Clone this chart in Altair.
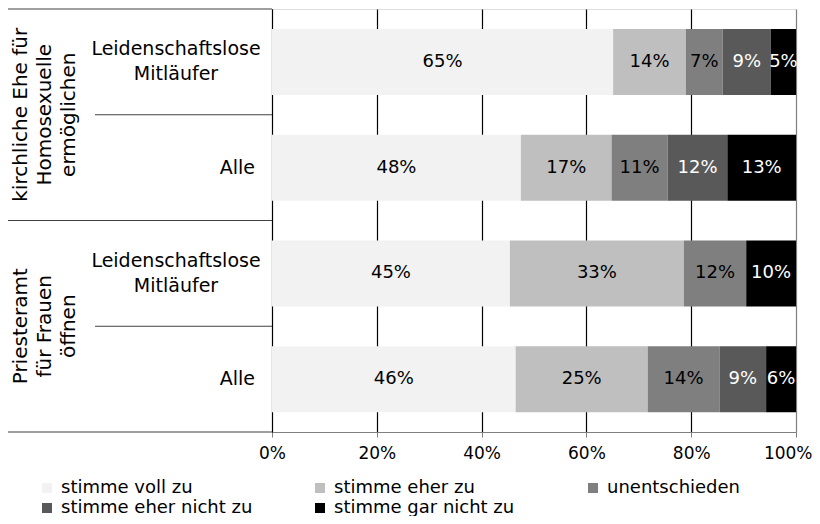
import altair as alt
import pandas as pd

FONT = "DejaVu Sans"

categories = ["stimme voll zu", "stimme eher zu", "unentschieden",
              "stimme eher nicht zu", "stimme gar nicht zu"]
colors = ["#f2f2f2", "#bfbfbf", "#7f7f7f", "#595959", "#000000"]
white_text = ["stimme eher nicht zu", "stimme gar nicht zu"]

row_labels = ["Leidenschaftslose\nMitläufer", "Alle",
              "Leidenschaftslose\nMitläufer", "Alle"]
group_labels = ["kirchliche Ehe für\nHomosexuelle\nermöglichen",
                "Priesteramt\nfür Frauen\nöffnen"]

# values (segment widths, %), and the printed labels
ehe_mitlaeufer = [65.1, 13.9, 7.0, 9.2, 4.8]
ehe_alle = [47.5, 17.3, 10.7, 11.4, 13.1]
priester_mitlaeufer = [45.4, 33.2, 11.9, 0.0, 9.5]
priester_alle = [46.5, 25.2, 13.7, 8.9, 5.7]

lab_ehe_mitlaeufer = ["65%", "14%", "7%", "9%", "5%"]
lab_ehe_alle = ["48%", "17%", "11%", "12%", "13%"]
lab_priester_mitlaeufer = ["45%", "33%", "12%", "", "10%"]
lab_priester_alle = ["46%", "25%", "14%", "9%", "6%"]

series = [ehe_mitlaeufer, ehe_alle, priester_mitlaeufer, priester_alle]
labels = [lab_ehe_mitlaeufer, lab_ehe_alle, lab_priester_mitlaeufer, lab_priester_alle]

recs = []
for i, (vals, labs) in enumerate(zip(series, labels)):
    start = 0.0
    for cat, v, lab in zip(categories, vals, labs):
        if v > 0:
            recs.append({"ypos": i + 0.5, "cat": cat, "start": start, "end": start + v,
                         "mid": start + v / 2, "label": lab,
                         "white": cat in white_text})
        start += v
df = pd.DataFrame(recs)

rows_df = pd.DataFrame({"ypos": [i + 0.5 for i in range(4)], "label": row_labels,
                        "multi": ["\n" in s for s in row_labels]})
groups_df = pd.DataFrame({"ypos": [1.0, 3.0], "label": group_labels})
full_sep = pd.DataFrame({"b": [0, 2, 4]})
inner_sep = pd.DataFrame({"b": [1, 3]})

yscale = alt.Scale(domain=[0, 4], reverse=True, nice=False, zero=False, padding=0)

bars = alt.Chart(df).mark_bar(size=66).encode(
    x=alt.X("start:Q", scale=alt.Scale(domain=[0, 100], nice=False, padding=0),
            axis=alt.Axis(values=[0, 20, 40, 60, 80, 100], labelExpr="datum.value + '%'",
                          title=None, grid=True, labelFlush=False,
                          labelAlign={"condition": {"test": "datum.value == 100", "value": "right"},
                                      "value": "center"},
                          labelOffset={"condition": {"test": "datum.value == 100", "value": 16},
                                       "value": 0},
                          gridColor={"condition": {"test": "datum.value == 100", "value": "#7f7f7f"},
                                     "value": "#000000"},
                          gridWidth=1.2,
                          domainColor="#7f7f7f", tickColor="#7f7f7f", tickSize=5,
                          labelFontSize=17, labelColor="#000", labelPadding=8,
                          labelFont=FONT)),
    x2="end:Q",
    y=alt.Y("ypos:Q", scale=yscale,
            axis=alt.Axis(labels=False, ticks=False, grid=False, title=None,
                          domainColor="#000000")),
    color=alt.Color("cat:N", scale=alt.Scale(domain=categories, range=colors),
                    legend=alt.Legend(title=None, orient="none", legendX=-234, legendY=470,
                                      direction="horizontal", columns=3, gridAlign="all",
                                      columnPadding=58, rowPadding=2,
                                      symbolType="square", symbolSize=100,
                                      symbolStrokeWidth=0, labelFontSize=18,
                                      labelFont=FONT, labelColor="#000",
                                      labelOffset=5, labelLimit=300)),
)

txt_dark = alt.Chart(df).transform_filter("!datum.white").mark_text(
    fontSize=18, font=FONT, color="#000").encode(
    x="mid:Q", y="ypos:Q", text="label:N")
txt_light = alt.Chart(df).transform_filter("datum.white").mark_text(
    fontSize=18, font=FONT, color="#fff").encode(
    x="mid:Q", y="ypos:Q", text="label:N")

sep_full = alt.Chart(full_sep).mark_rule(color="#404040", strokeWidth=1.2).encode(
    y="b:Q", x=alt.value(-264), x2=alt.value(0))
sep_inner = alt.Chart(inner_sep).mark_rule(color="#404040", strokeWidth=1.2).encode(
    y="b:Q", x=alt.value(-177), x2=alt.value(0))

row_multi = alt.Chart(rows_df).transform_filter("datum.multi").mark_text(
    fontSize=19, font=FONT, color="#000", align="center", baseline="middle",
    lineBreak="\n", lineHeight=25, dy=-12.5).encode(
    y="ypos:Q", x=alt.value(-96), text="label:N")
row_single = alt.Chart(rows_df).transform_filter("!datum.multi").mark_text(
    fontSize=19, font=FONT, color="#000", align="right", baseline="middle").encode(
    y="ypos:Q", x=alt.value(-17), text="label:N")

grp = alt.Chart(groups_df).mark_text(
    fontSize=20, font=FONT, color="#000", align="center", baseline="middle",
    angle=270, lineBreak="\n", lineHeight=24).encode(
    y="ypos:Q", x=alt.value(-251), text="label:N")

chart = alt.layer(bars, txt_dark, txt_light, sep_full, sep_inner, row_multi, row_single, grp).properties(
    width=524, height=423,
    autosize=alt.AutoSizeParams(type="none"),
    padding={"left": 264, "top": 1, "right": 16, "bottom": 84},
).configure_view(stroke=None).configure(font=FONT)

chart.save("out.html", embed_options={"renderer": "svg", "actions": False})
